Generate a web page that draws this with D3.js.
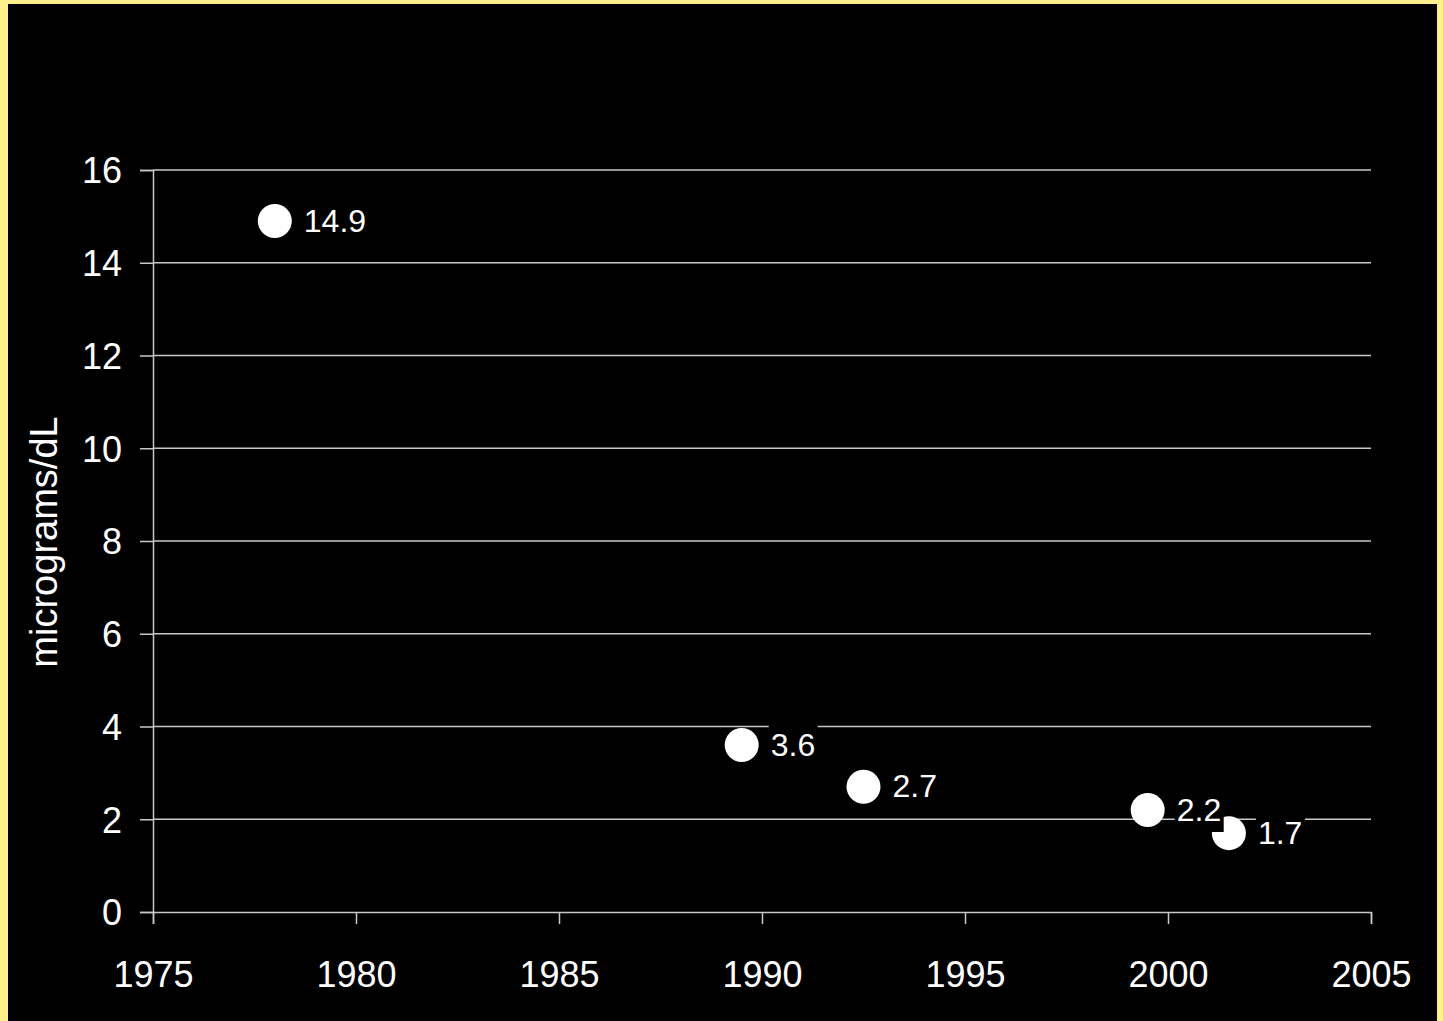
<!DOCTYPE html>
<html>
<head>
<meta charset="utf-8">
<script src="https://cdn.jsdelivr.net/npm/d3@7"></script>
<style>
  html, body { margin: 0; padding: 0; background: #fff08c; }
  svg { display: block; }
</style>
</head>
<body>
<div id="chart"></div>
<script>
// data
var years = [1978, 1989.5, 1992.5, 1999.5, 2001.5];
var values = [14.9, 3.6, 2.7, 2.2, 1.7];
var xTicks = [1975, 1980, 1985, 1990, 1995, 2000, 2005];
var yTicks = [0, 2, 4, 6, 8, 10, 12, 14, 16];
var yTitle = "micrograms/dL";

var W = 1443, H = 1021;
var svg = d3.select("#chart").append("svg")
  .attr("width", W)
  .attr("height", H)
  .style("font-family", "Arial, 'Liberation Sans', sans-serif");

// yellow frame with black panel
svg.append("rect").attr("width", W).attr("height", H).attr("fill", "#fff08c");
svg.append("rect").attr("x", 8).attr("y", 4).attr("width", 1429).attr("height", H - 4).attr("fill", "#000");

var x = d3.scaleLinear().domain([1975, 2005]).range([153, 1371]);
var y = d3.scaleLinear().domain([0, 16]).range([912, 170]);
var grid = "#c8c8c8";

// horizontal gridlines
svg.append("g").selectAll("line")
  .data(yTicks.filter(function(d) { return d > 0; }))
  .enter().append("line")
  .attr("x1", x(1975)).attr("x2", x(2005))
  .attr("y1", function(d) { return y(d); })
  .attr("y2", function(d) { return y(d); })
  .attr("stroke", grid).attr("stroke-width", 1.5);

// y axis
var yAxis = svg.append("g")
  .attr("transform", "translate(" + x(1975) + ",0)")
  .call(d3.axisLeft(y).tickValues(yTicks).tickSize(13).tickPadding(18));
// x axis
var xAxis = svg.append("g")
  .attr("transform", "translate(0," + y(0) + ")")
  .call(d3.axisBottom(x).tickValues(xTicks).tickFormat(d3.format("d")).tickSize(12).tickPadding(37));

[yAxis, xAxis].forEach(function(a) {
  a.select(".domain").attr("stroke", grid).attr("stroke-width", 1.5);
  a.selectAll(".tick line").attr("stroke", grid).attr("stroke-width", 1.5);
  a.selectAll("text").attr("fill", "#fff").style("font-size", "36px").style("font-family", "Arial, 'Liberation Sans', sans-serif");
});
yAxis.selectAll("text").attr("dy", "0.36em");
xAxis.selectAll("text").attr("dy", "0.71em");

// axis title
svg.append("text")
  .attr("transform", "translate(57," + (y(8) + 1) + ") rotate(-90)")
  .attr("text-anchor", "middle")
  .attr("fill", "#fff")
  .style("font-size", "38px")
  .text(yTitle);

// markers
svg.append("g").selectAll("circle")
  .data(years)
  .enter().append("circle")
  .attr("cx", function(d) { return x(d); })
  .attr("cy", function(d, i) { return y(values[i]); })
  .attr("r", 17)
  .attr("fill", "#fff");

// data labels with black boxes (drawn over the markers)
var labels = svg.append("g").selectAll("g")
  .data(years)
  .enter().append("g")
  .attr("transform", function(d, i) { return "translate(" + (x(d) + 27) + "," + (y(values[i]) - 1) + ")"; });

labels.append("rect")
  .attr("x", 0).attr("y", -21)
  .attr("width", function(d, i) { return values[i] >= 10 ? 72 : 49; })
  .attr("height", 44)
  .attr("fill", "#000");

labels.append("text")
  .attr("x", 2)
  .attr("dy", "0.36em")
  .attr("fill", "#fff")
  .style("font-size", "32px")
  .text(function(d, i) { return values[i].toFixed(1); });
</script>
</body>
</html>
